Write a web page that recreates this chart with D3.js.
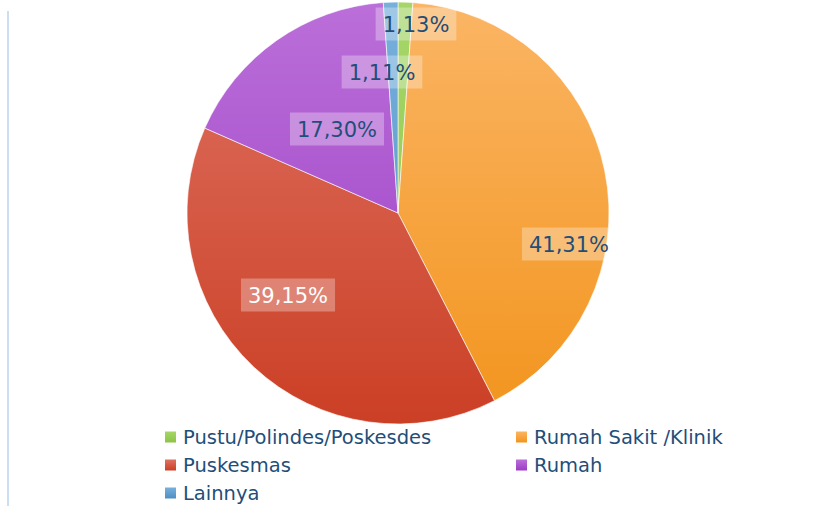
<!DOCTYPE html>
<html>
<head>
<meta charset="utf-8">
<script src="https://cdn.jsdelivr.net/npm/d3@7"></script>
<style>
  html, body { margin: 0; padding: 0; background: #fff; }
  svg { display: block; }
  text { font-family: "DejaVu Sans", sans-serif; }
</style>
</head>
<body>
<svg></svg>
<script>
/* global d3 */

const categories = ['Pustu/Polindes/Poskesdes', 'Rumah Sakit /Klinik', 'Puskesmas', 'Rumah', 'Lainnya'];
const values     = [1.13, 41.31, 39.15, 17.30, 1.11];
const labels     = ['1,13%', '41,31%', '39,15%', '17,30%', '1,11%'];

// top / bottom colours of each slice's gradient
const colorsTop    = ['#a6d66a', '#fbb564', '#de7262', '#bb6fd9', '#78b0dc'];
const colorsBottom = ['#8cc444', '#f2941d', '#cb3f25', '#9a3cc4', '#4f8fc4'];
const labelColors  = ['#1f4e79', '#1f4e79', '#ffffff', '#1f4e79', '#1f4e79'];

// label offsets from pie centre (Excel "best fit" placement)
const labelOffsets = [[18, -189], [171, 31], [-110, 82], [-61, -84], [-16, -141]];

const WIDTH  = 825;
const HEIGHT = 506;
const cx = 398;
const cy = 213;
const radius = 211;

const data = categories.map((name, i) => ({ name, value: values[i], label: labels[i], i }));

const svg = d3.select('svg')
  .attr('width', WIDTH)
  .attr('height', HEIGHT);

const defs = svg.append('defs');
data.forEach((d) => {
  const g = defs.append('linearGradient')
    .attr('id', `grad${d.i}`)
    .attr('gradientUnits', 'userSpaceOnUse')
    .attr('x1', 0).attr('y1', -radius)
    .attr('x2', 0).attr('y2', radius);
  g.append('stop').attr('offset', '0%').attr('stop-color', colorsTop[d.i]);
  g.append('stop').attr('offset', '100%').attr('stop-color', colorsBottom[d.i]);

  const lg = defs.append('linearGradient')
    .attr('id', `lgrad${d.i}`)
    .attr('x1', 0).attr('y1', 0)
    .attr('x2', 0).attr('y2', 1);
  lg.append('stop').attr('offset', '0%').attr('stop-color', colorsTop[d.i]);
  lg.append('stop').attr('offset', '100%').attr('stop-color', colorsBottom[d.i]);
});

// thin frame line on the left
svg.append('line')
  .attr('x1', 8).attr('x2', 8)
  .attr('y1', 11).attr('y2', 506)
  .attr('stroke', '#cadff2')
  .attr('stroke-width', 2);

const pie = d3.pie()
  .sort(null)
  .value(d => d.value);

const arc = d3.arc()
  .innerRadius(0)
  .outerRadius(radius);

const arcs = pie(data);

const g = svg.append('g')
  .attr('transform', `translate(${cx},${cy})`);

g.selectAll('path')
  .data(arcs)
  .join('path')
  .attr('d', arc)
  .attr('fill', d => `url(#grad${d.data.i})`)
  .attr('stroke', '#fff')
  .attr('stroke-width', 0.6);

const lbl = g.selectAll('g.label')
  .data(arcs)
  .join('g')
  .attr('class', 'label')
  .attr('transform', d => `translate(${labelOffsets[d.data.i][0]},${labelOffsets[d.data.i][1]})`);

lbl.append('text')
  .attr('text-anchor', 'middle')
  .attr('dy', '0.36em')
  .attr('font-size', 21)
  .attr('fill', d => labelColors[d.data.i])
  .text(d => d.data.label);

lbl.each(function () {
  const t = d3.select(this).select('text').node();
  const w = t.getComputedTextLength();
  d3.select(this).insert('rect', 'text')
    .attr('x', -w / 2 - 7)
    .attr('y', -16.5)
    .attr('width', w + 14)
    .attr('height', 33)
    .attr('fill', '#fff')
    .attr('fill-opacity', 0.3);
});

// legend
const legendX  = [165, 516];
const legendY0 = 437;
const rowH     = 28;

const legend = svg.append('g')
  .selectAll('g')
  .data(data)
  .join('g')
  .attr('transform', d => `translate(${legendX[d.i % 2]},${legendY0 + Math.floor(d.i / 2) * rowH})`);

legend.append('rect')
  .attr('x', 0)
  .attr('y', -5.5)
  .attr('width', 11)
  .attr('height', 11)
  .attr('fill', d => `url(#lgrad${d.i})`);

legend.append('text')
  .attr('x', 18)
  .attr('dy', '0.36em')
  .attr('font-size', 19.5)
  .attr('fill', '#1f4e79')
  .text(d => d.name);
</script>
</body>
</html>
